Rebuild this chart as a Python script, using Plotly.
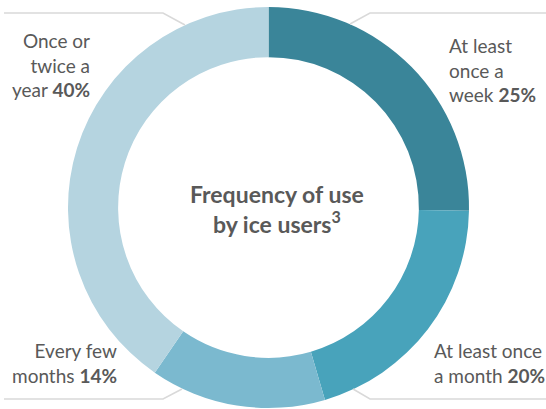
import plotly.graph_objects as go

categories = ["At least once a week", "At least once a month", "Every few months", "Once or twice a year"]
values = [25, 20, 14, 40]
colors = ["#3a8599", "#48a3bb", "#7bb9cf", "#b5d4e0"]

W, H = 546, 409

def px(x):
    return x / W

def py(y):
    return 1 - y / H

fig = go.Figure(go.Pie(
    labels=categories,
    values=values,
    sort=False,
    direction="clockwise",
    rotation=0,
    hole=0.75,
    marker=dict(colors=colors, line=dict(width=0)),
    textinfo="none",
    hoverinfo="label+value",
    domain=dict(x=[px(68), px(469)], y=[py(408), py(7)]),
    showlegend=False,
))

FONT = "Lato"
GRAY = "#595959"
fs = 19

annotations = [
    dict(x=px(92), y=py(65), text="Once or<br>twice a<br>year <b>40%</b>", xanchor="right", align="right"),
    dict(x=px(447), y=py(70), text="At least<br>once a<br>week <b>25%</b>", xanchor="left", align="left"),
    dict(x=px(119), y=py(363), text="Every few<br>months <b>14%</b>", xanchor="right", align="right"),
    dict(x=px(432), y=py(363), text="At least once<br>a month <b>20%</b>", xanchor="left", align="left"),
]
for a in annotations:
    a.update(xref="paper", yref="paper", yanchor="middle", showarrow=False,
             font=dict(family=FONT, size=fs, color=GRAY))

annotations.append(dict(
    x=px(277), y=py(209), xref="paper", yref="paper", showarrow=False,
    xanchor="center", yanchor="middle", align="center",
    text="<b>Frequency of use<br>by ice users<sup>3</sup></b>",
    font=dict(family=FONT, size=23, color=GRAY),
))

def path(points):
    return "M " + " L ".join(f"{px(x)},{py(y)}" for x, y in points)

lines = [
    [(4, 13), (163, 13), (185, 25)],
    [(546, 13), (370, 13), (350, 24)],
    [(4, 399), (163, 399), (182, 389)],
    [(546, 399), (370, 399), (353, 389)],
]
shapes = [dict(type="path", path=path(p), xref="paper", yref="paper",
               line=dict(color="#d9d9d9", width=1.5)) for p in lines]

fig.update_layout(
    width=W, height=H,
    margin=dict(l=0, r=0, t=0, b=0),
    paper_bgcolor="white", plot_bgcolor="white",
    annotations=annotations,
    shapes=shapes,
)

fig.write_html(
    "out.html",
    config={"displayModeBar": False},
    post_script="document.body.style.margin='0';document.body.style.overflow='hidden';",
)
